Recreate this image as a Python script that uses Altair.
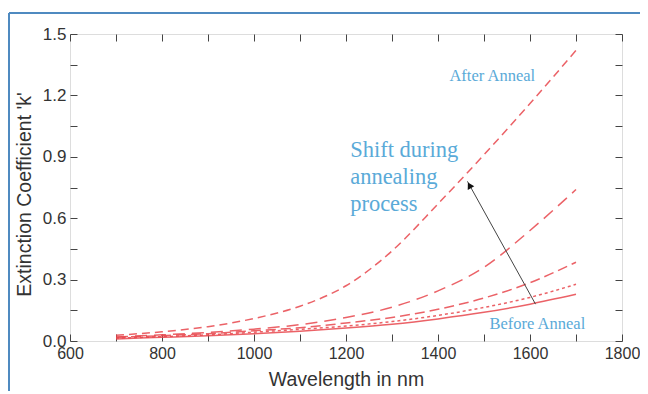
import altair as alt
import pandas as pd

# Wavelength grid (nm)
wavelength = [700, 800, 900, 1000, 1100, 1200, 1300, 1400, 1500, 1600, 1700]

# Extinction coefficient k
k_after = [0.028, 0.045, 0.07, 0.11, 0.17, 0.27, 0.44, 0.67, 0.91, 1.16, 1.42]
k_mid2 = [0.02, 0.03, 0.042, 0.058, 0.08, 0.115, 0.165, 0.245, 0.36, 0.54, 0.74]
k_mid1 = [0.018, 0.026, 0.036, 0.05, 0.065, 0.088, 0.115, 0.155, 0.21, 0.285, 0.385]
k_dotted = [0.014, 0.021, 0.03, 0.043, 0.057, 0.073, 0.095, 0.125, 0.164, 0.213, 0.277]
k_before = [0.01, 0.018, 0.026, 0.036, 0.048, 0.063, 0.082, 0.108, 0.14, 0.18, 0.228]

series = [
    ("after", k_after, [8, 5]),
    ("mid2", k_mid2, [12, 7]),
    ("mid1", k_mid1, [10, 5]),
    ("dotted", k_dotted, [3, 3]),
    ("before", k_before, []),
]

x_ticks = [600, 700, 800, 900, 1000, 1100, 1200, 1300, 1400, 1500, 1600, 1700, 1800]
y_ticks = [0.0, 0.15, 0.3, 0.45, 0.6, 0.75, 0.9, 1.05, 1.2, 1.35, 1.5]

# annotations
note_text = ["After Anneal", "Before Anneal"]
note_x = [1518, 1616]
note_y = [1.295, 0.083]

shift_lines = ["Shift during", "annealing", "process"]
shift_x = [1209, 1209, 1209]
shift_y = [0.935, 0.80, 0.67]

arrow_from = (1612, 0.18)
arrow_to = (1464, 0.78)

RED = "#e8474c"
BLUE = "#5aaad8"
AX = "#333333"
TICK = "#444444"

xscale = alt.Scale(domain=[600, 1800], nice=False)
yscale = alt.Scale(domain=[0, 1.5], nice=False)

x_axis = alt.Axis(
    values=x_ticks, format="d", labelExpr="datum.value % 200 == 0 ? datum.label : ''",
    domain=False, grid=False, tickSize=7, offset=-7, tickColor=TICK, tickWidth=1,
    labelPadding=4, labelFont="Liberation Sans", labelFontSize=16, labelColor=AX,
    labelFlush=False, labelOverlap=False, title="Wavelength in nm", titleFont="Liberation Sans",
    titleFontSize=19.5, titleFontWeight="normal", titleColor=AX, titlePadding=9,
)
y_axis = alt.Axis(
    values=y_ticks,
    labelExpr="round(datum.value*100) % 30 == 0 ? format(datum.value, '.1f') : ''",
    domain=False, grid=False, tickSize=7, offset=-7, tickColor=TICK, tickWidth=1,
    labelPadding=4, labelFont="Liberation Sans", labelFontSize=17, labelColor=AX,
    labelFlush=False, labelOverlap=False, title="Extinction Coefficient 'k'", titleFont="Liberation Sans",
    titleFontSize=19.5, titleFontWeight="normal", titleColor=AX, titlePadding=8, titleY=160,
)
x_top = alt.Axis(values=x_ticks, orient="top", labels=False, title=None, domain=False,
                 grid=False, tickSize=7, offset=-7, tickColor=TICK)
y_right = alt.Axis(values=y_ticks, orient="right", labels=False, title=None, domain=False,
                   grid=False, tickSize=7, offset=-7, tickColor=TICK)

layers = []
for i, (name, vals, dash) in enumerate(series):
    df = pd.DataFrame({"wl": wavelength, "k": vals})
    mk = dict(color=RED, strokeWidth=1.5, opacity=0.85, interpolate="monotone")
    if dash:
        mk["strokeDash"] = dash
    if i == 0:
        enc = dict(x=alt.X("wl:Q", scale=xscale, axis=x_axis), y=alt.Y("k:Q", scale=yscale, axis=y_axis))
    else:
        enc = dict(x=alt.X("wl:Q", scale=xscale, axis=None), y=alt.Y("k:Q", scale=yscale, axis=None))
    layers.append(alt.Chart(df).mark_line(**mk).encode(**enc))

# top / right tick axes
frame_df = pd.DataFrame({"wl": [600, 1800], "k": [0, 1.5]})
layers.append(alt.Chart(frame_df).mark_point(opacity=0).encode(
    x=alt.X("wl:Q", scale=xscale, axis=x_top), y=alt.Y("k:Q", scale=yscale, axis=y_right)))

# arrow
arrow_df = pd.DataFrame({"x": [arrow_from[0]], "y": [arrow_from[1]], "x2": [arrow_to[0]], "y2": [arrow_to[1]]})
layers.append(alt.Chart(arrow_df).mark_rule(color="#444", strokeWidth=1).encode(
    x=alt.X("x:Q", scale=xscale, axis=None), y=alt.Y("y:Q", scale=yscale, axis=None),
    x2="x2:Q", y2="y2:Q"))
head_df = pd.DataFrame({"x": [arrow_to[0]], "y": [arrow_to[1]]})
layers.append(alt.Chart(head_df).mark_point(shape="triangle-up", filled=True, color="#111",
                                            size=55, opacity=1, angle=331, xOffset=2, yOffset=4).encode(
    x=alt.X("x:Q", scale=xscale, axis=None), y=alt.Y("y:Q", scale=yscale, axis=None)))

# annotations
notes_df = pd.DataFrame({"t": note_text, "x": note_x, "y": note_y})
layers.append(alt.Chart(notes_df).mark_text(font="Liberation Serif", fontSize=16.5, color=BLUE,
                                            align="center", baseline="middle").encode(
    x=alt.X("x:Q", scale=xscale, axis=None), y=alt.Y("y:Q", scale=yscale, axis=None), text="t:N"))
shift_df = pd.DataFrame({"t": shift_lines, "x": shift_x, "y": shift_y})
layers.append(alt.Chart(shift_df).mark_text(font="Liberation Serif", fontSize=22.5, color=BLUE,
                                            align="left", baseline="middle").encode(
    x=alt.X("x:Q", scale=xscale, axis=None), y=alt.Y("y:Q", scale=yscale, axis=None), text="t:N"))

# decorative frame (top and left edges)
layers.append(alt.Chart(frame_df.head(1)).mark_rule(color="#4f8ac0", strokeWidth=2).encode(
    x=alt.value(-61), x2=alt.value(700), y=alt.value(-21)))
layers.append(alt.Chart(frame_df.head(1)).mark_rule(color="#4f8ac0", strokeWidth=2).encode(
    x=alt.value(-61), y=alt.value(-21), y2=alt.value(500)))

chart = alt.layer(*layers).resolve_axis(x="independent", y="independent").properties(
    width=552, height=307,
    autosize=alt.AutoSizeParams(type="none"),
    padding={"left": 62, "top": 26, "right": 18, "bottom": 50},
).configure_view(stroke="#444", strokeWidth=1.2).configure(background="white")

chart.save("out.html", embed_options={"renderer": "svg", "actions": False})
